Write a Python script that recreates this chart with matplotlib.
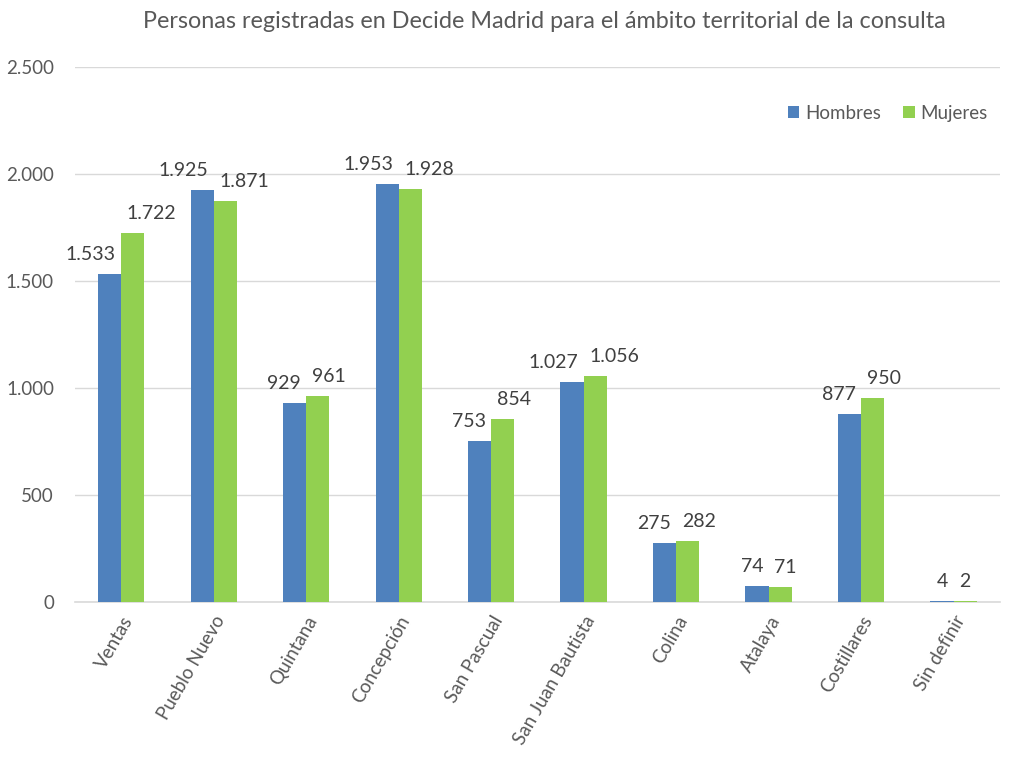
# Personas registradas en Decide Madrid - bar chart

import matplotlib.pyplot as plt
import numpy as np

plt.rcParams["font.family"] = ["Lato", "DejaVu Sans"]

# DATA
barrios = ['Ventas', 'Pueblo Nuevo', 'Quintana', 'Concepción', 'San Pascual',
           'San Juan Bautista', 'Colina', 'Atalaya', 'Costillares', 'Sin definir']
hombres = [1533, 1925, 929, 1953, 753, 1027, 275, 74, 877, 4]
mujeres = [1722, 1871, 961, 1928, 854, 1056, 282, 71, 950, 2]
yticks = [0, 500, 1000, 1500, 2000, 2500]


def fmt(v):
    # Spanish thousands separator
    return f"{v:,}".replace(",", ".")


fig = plt.figure(figsize=(10.12, 7.58), dpi=100)
ax = fig.add_axes([0.074, 0.206, 0.914, 0.706])

x = np.arange(len(barrios))
w = 0.25
c_h = '#4f81bd'
c_m = '#92d050'
ax.bar(x - w / 2, hombres, w, color=c_h, label='Hombres', zorder=3)
ax.bar(x + w / 2, mujeres, w, color=c_m, label='Mujeres', zorder=3)

# Data labels: men to the left of the pair, women to the right
for xi, h, m in zip(x, hombres, mujeres):
    ax.annotate(fmt(h), (xi, h), xytext=(-4, 8), textcoords='offset points',
                ha='right', va='bottom', fontsize=14, color='#404040')
    ax.annotate(fmt(m), (xi, m), xytext=(4, 8), textcoords='offset points',
                ha='left', va='bottom', fontsize=14, color='#404040')

ax.set_xlim(-0.5, len(barrios) - 0.5)
ax.set_ylim(0, 2500)
ax.set_yticks(yticks)
ax.set_yticklabels([fmt(t) for t in yticks], fontsize=13.5, color='#595959')
ax.set_xticks(x)
ax.set_xticklabels(barrios, rotation=60, ha='right', rotation_mode='anchor',
                   fontsize=13.5, color='#595959')
ax.tick_params(length=0, pad=8)
ax.tick_params(axis='y', pad=15)

ax.grid(axis='y', color='#d9d9d9', linewidth=1, zorder=0)
for s in ['top', 'right', 'left']:
    ax.spines[s].set_visible(False)
ax.spines['bottom'].set_color('#d9d9d9')
ax.spines['bottom'].set_linewidth(1.2)

ax.legend(loc='upper right', bbox_to_anchor=(1.005, 0.96), ncol=2, frameon=False,
          fontsize=13.5, handlelength=0.6, handleheight=0.6, handletextpad=0.3,
          columnspacing=1.2, labelcolor='#595959')

# Title centred over the plot area
fig.suptitle('Personas registradas en Decide Madrid para el ámbito territorial de la consulta',
             fontsize=16.8, color='#595959', x=0.538, y=0.985)

plt.savefig('out.png', dpi=100)
